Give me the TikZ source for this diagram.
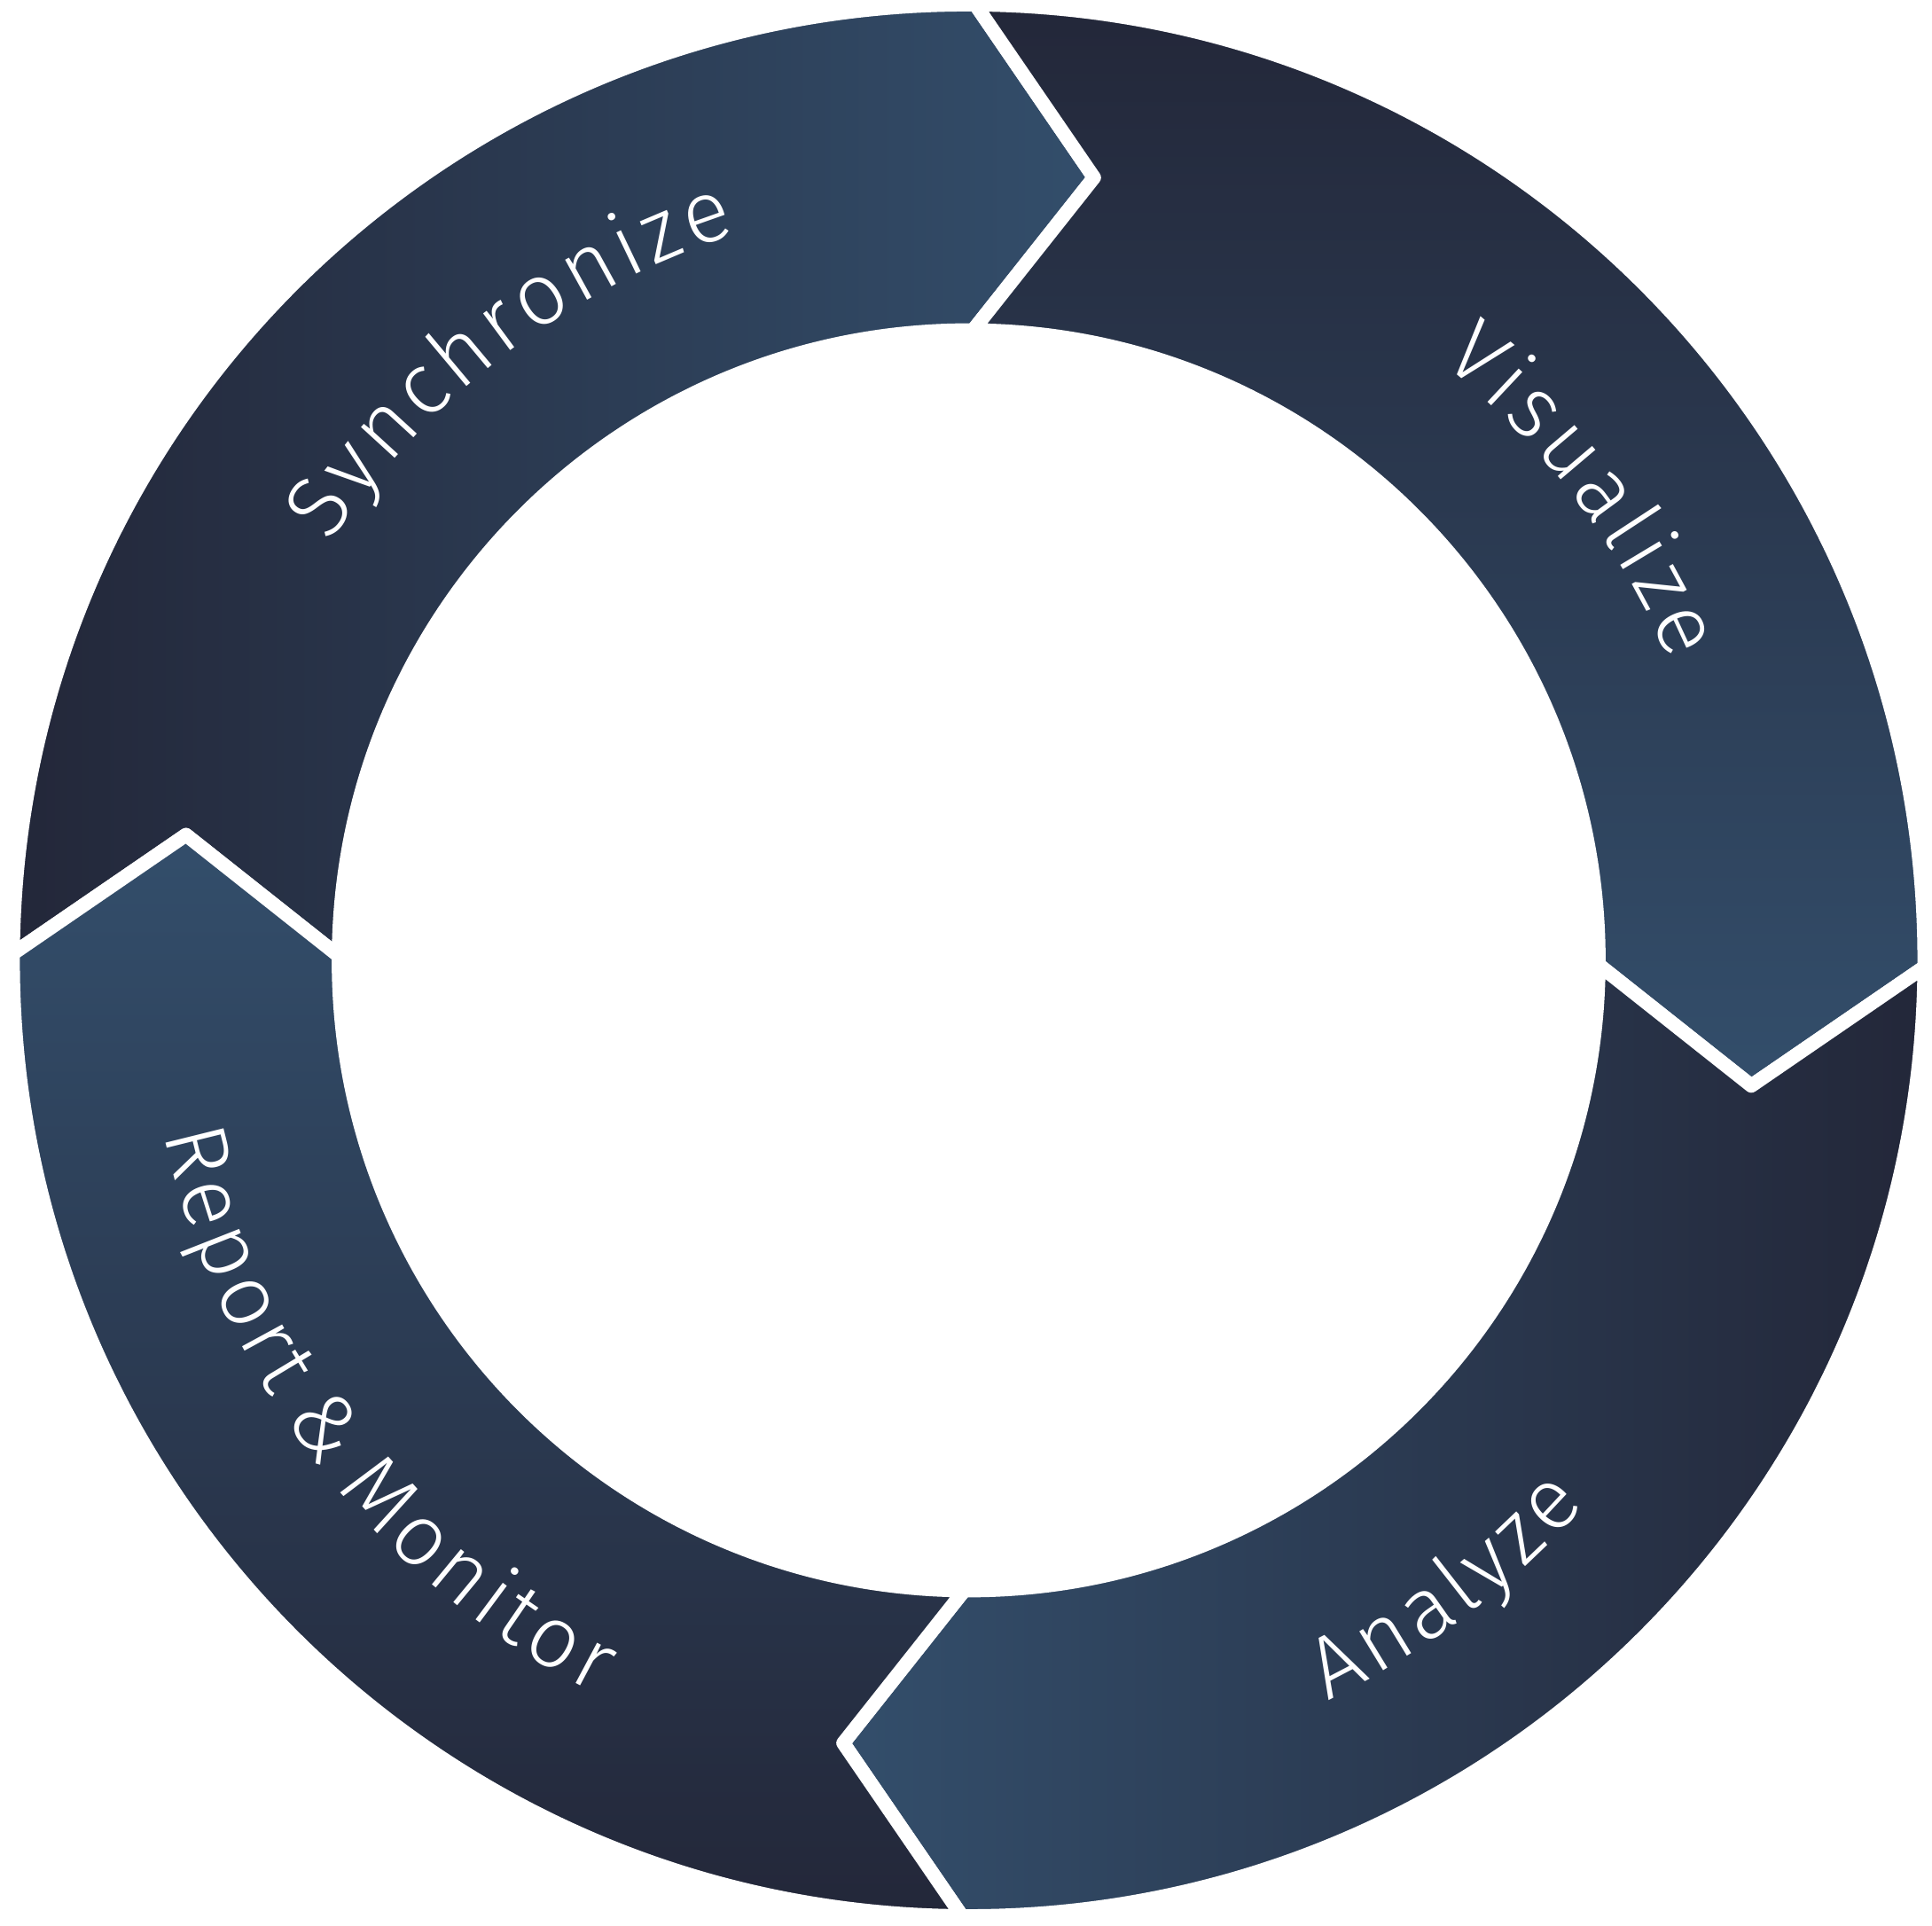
\documentclass[tikz,border=0pt]{standalone}
\usepackage{fontspec}
\setmainfont{Fira Sans}[UprightFont=* Light]
\usetikzlibrary{decorations.text}
\definecolor{ringdark}{HTML}{232739}
\definecolor{ringlight}{HTML}{334E6B}
\newcommand\ringgap{\kern1.6pt}

\begin{document}
\begin{tikzpicture}[scale=1,
    ringpart/.style={draw=white, line width=4.5pt, line join=round},
    ringtext/.style={decorate, decoration={text along path, text align=center,
        text={|\fontsize{28}{28}\selectfont\color{white}|#1}}}
  ]
    \useasboundingbox (-10.925,-10.89) rectangle (10.865,10.83);
    % the four arrows of the ring
    \path[ringpart, left color=ringdark, right color=ringlight]
      (179.6:10.78) arc (179.6:89.6:10.78) -- (80.9:8.94) -- (89.6:7.105)
      arc (89.6:179.6:7.105) -- (170.9:8.94) -- cycle;
    \path[ringpart, top color=ringdark, bottom color=ringlight]
      (89.6:10.78) arc (89.6:-0.4:10.78) -- (-9.1:8.94) -- (-0.4:7.105)
      arc (-0.4:89.6:7.105) -- (80.9:8.94) -- cycle;
    \path[ringpart, right color=ringdark, left color=ringlight]
      (-0.4:10.78) arc (-0.4:-90.4:10.78) -- (-99.1:8.94) -- (-90.4:7.105)
      arc (-90.4:-0.4:7.105) -- (-9.1:8.94) -- cycle;
    \path[ringpart, bottom color=ringdark, top color=ringlight]
      (-90.4:10.78) arc (-90.4:-180.4:10.78) -- (-189.1:8.94) -- (-180.4:7.105)
      arc (-180.4:-90.4:7.105) -- (-99.1:8.94) -- cycle;
    % labels, letter-spaced by hand
    \path[ringtext={S{\ringgap}y{\ringgap}n{\ringgap}c{\ringgap}h{\ringgap}r{\ringgap}o{\ringgap}n{\ringgap}i{\ringgap}z{\ringgap}e}]
      (167.3:8.6) arc (167.3:87.3:8.6);
    \path[ringtext={V{\ringgap}i{\ringgap}s{\ringgap}u{\ringgap}a{\ringgap}l{\ringgap}i{\ringgap}z{\ringgap}e}]
      (77.4:8.6) arc (77.4:-2.6:8.6);
    \path[ringtext={A{\ringgap}n{\ringgap}a{\ringgap}l{\ringgap}y{\ringgap}z{\ringgap}e}]
      (-92.8:9.28) arc (-92.8:-12.8:9.28);
    \path[ringtext={R{\ringgap}e{\ringgap}p{\ringgap}o{\ringgap}r{\ringgap}t {\&} M{\ringgap}o{\ringgap}n{\ringgap}i{\ringgap}t{\ringgap}o{\ringgap}r}]
      (177.6:9.28) arc (177.6:257.6:9.28);
\end{tikzpicture}
\end{document}
